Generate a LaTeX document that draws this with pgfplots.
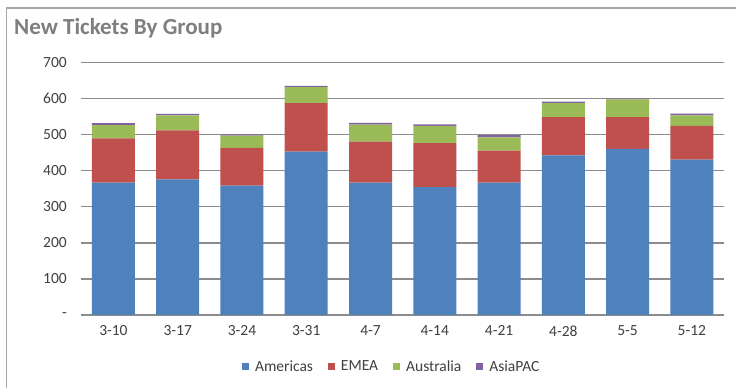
\documentclass[border=0pt]{standalone}
\usepackage{pgfplots}
\pgfplotsset{compat=1.18}
\usepackage{pgfplotstable}
\usepackage{fontspec}
\setmainfont{Carlito}

\definecolor{cAmericas}{HTML}{4F81BD}
\definecolor{cEMEA}{HTML}{C0504D}
\definecolor{cAustralia}{HTML}{9BBB59}
\definecolor{cAsiaPAC}{HTML}{8064A2}
\definecolor{gridgray}{HTML}{8C8C8C}
\definecolor{labelgray}{HTML}{404040}
\definecolor{titlegray}{HTML}{7F7F7F}
\definecolor{framegray}{HTML}{A6A6A6}

% weekly ticket counts per region
\pgfplotstableread{
idx week Americas EMEA Australia AsiaPAC
0 3-10 367 123 37 5
1 3-17 376 136 42 4
2 3-24 359 105 34 3
3 3-31 453 135 44 4
4 4-7  367 114 47 5
5 4-14 355 122 48 4
6 4-21 367 89  37 6
7 4-28 443 106 39 4
8 5-5  461 88  49 2
9 5-12 431 94  29 5
}\tickets

\begin{document}
\begin{tikzpicture}
\useasboundingbox (0pt,0pt) rectangle (736pt,388pt);
\fill[white] (0pt,0pt) rectangle (736pt,388pt);
\draw[framegray, line width=1.6pt] (6.5pt,-5pt) -- (6.5pt,380pt) -- (745pt,380pt);
\node[anchor=base west, font=\fontsize{23}{27}\selectfont\bfseries, text=titlegray, inner sep=0pt]
  at (14pt,353pt) {New Tickets By Group};
\begin{axis}[
  at={(81.3pt,73pt)}, anchor=south west,
  scale only axis, width=642.7pt, height=252.3pt,
  ybar stacked, bar width=43pt,
  xmin=-0.5, xmax=9.5, ymin=0, ymax=700,
  xtick=data, xticklabels={3-10,3-17,3-24,3-31,4-7,4-14,4-21,4-28,5-5,5-12},
  ytick={0,100,...,700}, yticklabels={-,100,200,300,400,500,600,700},
  tick label style={font=\fontsize{15.5}{18}\selectfont, text=labelgray},
  yticklabel style={xshift=-11pt},
  xticklabel style={yshift=-7pt},
  major tick length=0pt,
  axis x line=bottom, axis y line=left,
  x axis line style={gridgray, line width=1.2pt, -},
  y axis line style={draw=none},
  ymajorgrids, grid style={gridgray, line width=1.2pt},
  legend style={at={(0.483,-0.205)}, anchor=center, draw=none, fill=none,
    font=\fontsize{15.5}{18}\selectfont, text=labelgray,
    legend columns=-1, /tikz/every even column/.append style={column sep=13pt},
    /tikz/every odd column/.append style={column sep=4pt}},
  legend image code/.code={\fill[#1] (0pt,-3.5pt) rectangle (7pt,3.5pt);},
]
\addplot[fill=cAmericas, draw=none] table[x=idx, y=Americas] {\tickets};
\addplot[fill=cEMEA, draw=none] table[x=idx, y=EMEA] {\tickets};
\addplot[fill=cAustralia, draw=none] table[x=idx, y=Australia] {\tickets};
\addplot[fill=cAsiaPAC, draw=none] table[x=idx, y=AsiaPAC] {\tickets};
\legend{Americas, EMEA, Australia, AsiaPAC}
\end{axis}
\end{tikzpicture}
\end{document}
